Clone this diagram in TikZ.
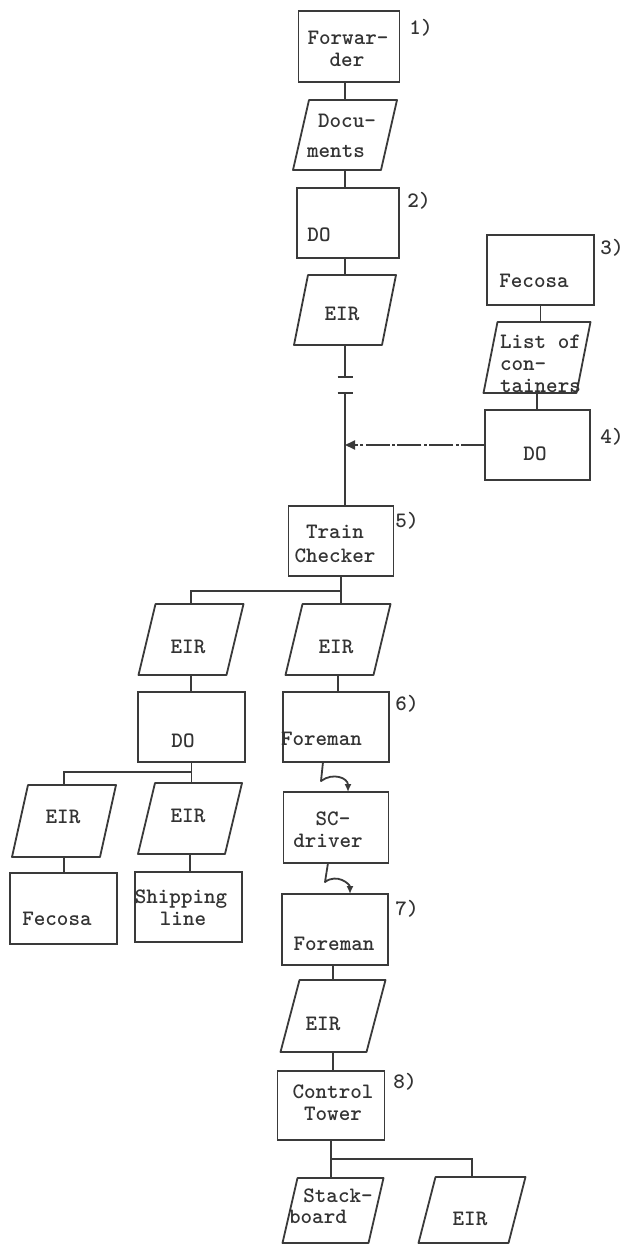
\documentclass[tikz,border=0pt]{standalone}
\usepackage{fontspec}
\newfontfamily\tw{lmmonolt10-bold.otf}
\usetikzlibrary{calc,arrows.meta}
\definecolor{ink}{HTML}{3A3A3A}
\definecolor{txtc}{HTML}{333333}
\tikzset{
  frame/.style={draw=ink, line width=0.9pt, inner sep=0pt, outer sep=0pt},
  slot/.style={inner sep=0pt, outer sep=0pt},
  edge/.style={draw=ink, line width=0.9pt, line join=round},
  link/.style={draw=ink, line width=0.9pt},
  wavy/.style={draw=ink, line width=0.9pt, line join=round, -{Latex[length=4pt,width=3.5pt]}},
  flow/.style={draw=ink, line width=0.9pt, dash pattern=on 12pt off 1.2pt on 1.5pt off 1.2pt, -{Triangle[length=5pt,width=4.5pt]}},
  lbl/.style={inner sep=0pt, outer sep=0pt, anchor=base, text=txtc, font=\tw\fontsize{11}{13}\selectfont},
}
% rectangular box: name, centre x, top y, bottom y, width
\newcommand\rectbox[5]{%
  \node[frame, minimum width={0.5pt*(#5)}, minimum height={0.5pt*(#4-#3)}] (#1) at (#2,{(#3+#4)/2}) {};}
% slanted (document) box: name, centre x, top y, bottom y, edge width, slant
\newcommand\slantbox[6]{%
  \node[slot, minimum width={0.5pt*(#5+#6)}, minimum height={0.5pt*(#4-#3)}] (#1) at (#2,{(#3+#4)/2}) {};
  \draw[edge] (#1.south west) -- ($(#1.north west)+(#6,0)$) -- (#1.north east)
     -- ($(#1.south east)-(#6,0)$) -- cycle;}
\begin{document}
\begin{tikzpicture}[x=0.5pt,y=-0.5pt]
\useasboundingbox[fill=white] (0,0) rectangle (622,1246);

% main column
\rectbox{fwd}{349}{11}{82}{101}
\slantbox{doc}{345}{100}{170}{88}{16}
\rectbox{do2}{348}{188}{258}{102}
\slantbox{eir1}{345}{275}{345}{88}{14}
\rectbox{tc}{341}{506}{576}{105}
\slantbox{eirR}{338}{604}{675}{88}{17}
\rectbox{f6}{336}{692}{762}{106}
\rectbox{scd}{336}{792}{863}{105}
\rectbox{f7}{335}{894}{965}{106}
\slantbox{eir7}{333}{980}{1052}{86}{19}
\rectbox{ct}{331}{1071}{1140}{107}
\slantbox{stack}{333}{1178}{1243}{86}{15}
\slantbox{eirB}{472}{1177}{1243}{90}{17}

% right column
\rectbox{fec3}{540.5}{235}{305}{107}
\slantbox{loc}{537}{322}{393}{93}{14}
\rectbox{do4}{537.5}{410}{480}{105}

% left column
\slantbox{eirL}{191}{604}{675}{88}{17}
\rectbox{doL}{191.5}{692}{762}{107}
\slantbox{eirLL}{64}{785}{857}{88}{16}
\slantbox{eirLR}{190}{783}{854}{87}{17}
\rectbox{fecL}{63.5}{873}{944}{107}
\rectbox{ship}{188.5}{872}{942}{107}

% connectors
\draw[link] (doc.north) -- (doc.north |- fwd.south);
\draw[link] (doc.south) -- (doc.south |- do2.north);
\draw[link] (eir1.north) -- (eir1.north |- do2.south);
\coordinate (brk1) at ($(eir1.south)+(0,32)$);
\coordinate (brk2) at ($(eir1.south)+(0,48)$);
\coordinate (jn) at ($(eir1.south)+(0,102)$);
\draw[link] (eir1.south) -- (brk1);
\draw[link] (brk1) ++(-7.5,0) -- ++(15,0);
\draw[link] (brk2) ++(-7.5,0) -- ++(15,0);
\draw[link] (brk2) -- (brk2 |- tc.north);
\draw[flow] (do4.west) -- (do4.west -| jn);

\draw[link] (fec3.south) -- (fec3.south |- loc.north);
\draw[link] (loc.south) -- (loc.south |- do4.north);

\coordinate (tcj) at ($(tc.south)+(0,15)$);
\draw[link] (tc.south) -- (tc.south |- eirR.north);
\draw[link] (tcj) -| (eirL.north);
\draw[link] (eirR.south) -- (eirR.south |- f6.north);
\draw[wavy] ($(f6.south)+(-13,0)$) -- ++(-2,19) .. controls +(12,-9) and +(0,-14) .. ($(scd.north)+(12,0)$);
\draw[wavy] ($(scd.south)+(-8,0)$) -- ++(-3,19) .. controls +(12,-9) and +(0,-10) .. ($(f7.north)+(15,0)$);
\draw[link] (eir7.north) -- (eir7.north |- f7.south);
\draw[link] (eir7.south) -- (eir7.south |- ct.north);
\coordinate (ctj) at ($(ct.south)+(0,19)$);
\draw[link] (ct.south) -- (ct.south |- stack.north);
\draw[link] (ctj) -| (eirB.north);

\draw[link] (eirL.south) -- (eirL.south |- doL.north);
\coordinate (doj) at ($(doL.south)+(0,10)$);
\draw[link] (doL.south) -- (doL.south |- eirLR.north);
\draw[link] (doj) -| (eirLL.north);
\draw[link] (eirLL.south) -- (eirLL.south |- fecL.north);
\draw[link] (eirLR.south) -- (eirLR.south |- ship.north);

% texts
\node[lbl] (t-fwd-a) at (348,45) {Forwar-};
\node[lbl] (t-fwd-b) at (347,67) {der};
\node[lbl] (t-doc-a) at (347,128) {Docu-};
\node[lbl] (t-doc-b) at (336,158) {ments};
\node[lbl] (t-do2) at (319,242) {DO};
\node[lbl] (t-eir1) at (342,320) {EIR};
\node[lbl] (t-fec3) at (534,287) {Fecosa};
\node[lbl, anchor=base west] (t-loc-a) at (500,348) {List of};
\node[lbl, anchor=base west] (t-loc-b) at (500,370) {con-};
\node[lbl, anchor=base west] (t-loc-c) at (500,392) {tainers};
\node[lbl] (t-do4) at (535,460) {DO};
\node[lbl] (t-tc-a) at (335,538) {Train};
\node[lbl] (t-tc-b) at (335,562) {Checker};
\node[lbl] (t-eirR) at (336,653) {EIR};
\node[lbl] (t-eirL) at (188,653) {EIR};
\node[lbl] (t-doL) at (183,747) {DO};
\node[lbl, anchor=base west] (t-f6) at (281,745) {Foreman};
\node[lbl] (t-scd-a) at (333,825) {SC-};
\node[lbl] (t-scd-b) at (328,847) {driver};
\node[lbl] (t-f7) at (334,950) {Foreman};
\node[lbl] (t-eir7) at (323,1030) {EIR};
\node[lbl] (t-ct-a) at (333,1098) {Control};
\node[lbl] (t-ct-b) at (333,1120) {Tower};
\node[lbl] (t-st-a) at (338,1202) {Stack-};
\node[lbl] (t-st-b) at (318,1223) {board};
\node[lbl] (t-eirB) at (470,1225) {EIR};
\node[lbl] (t-eirLL) at (63,823) {EIR};
\node[lbl] (t-eirLR) at (188,822) {EIR};
\node[lbl] (t-fecL) at (57,925) {Fecosa};
\node[lbl] (t-ship-a) at (181,903) {Shipping};
\node[lbl] (t-ship-b) at (183,925) {line};

% step numbers
\node[lbl] (n1) at (421,35) {1)};
\node[lbl] (n2) at (419,208) {2)};
\node[lbl] (n3) at (612,255) {3)};
\node[lbl] (n4) at (612,443) {4)};
\node[lbl] (n5) at (407,527) {5)};
\node[lbl] (n6) at (407,710) {6)};
\node[lbl] (n7) at (407,915) {7)};
\node[lbl] (n8) at (405,1088) {8)};
\end{tikzpicture}
\end{document}
